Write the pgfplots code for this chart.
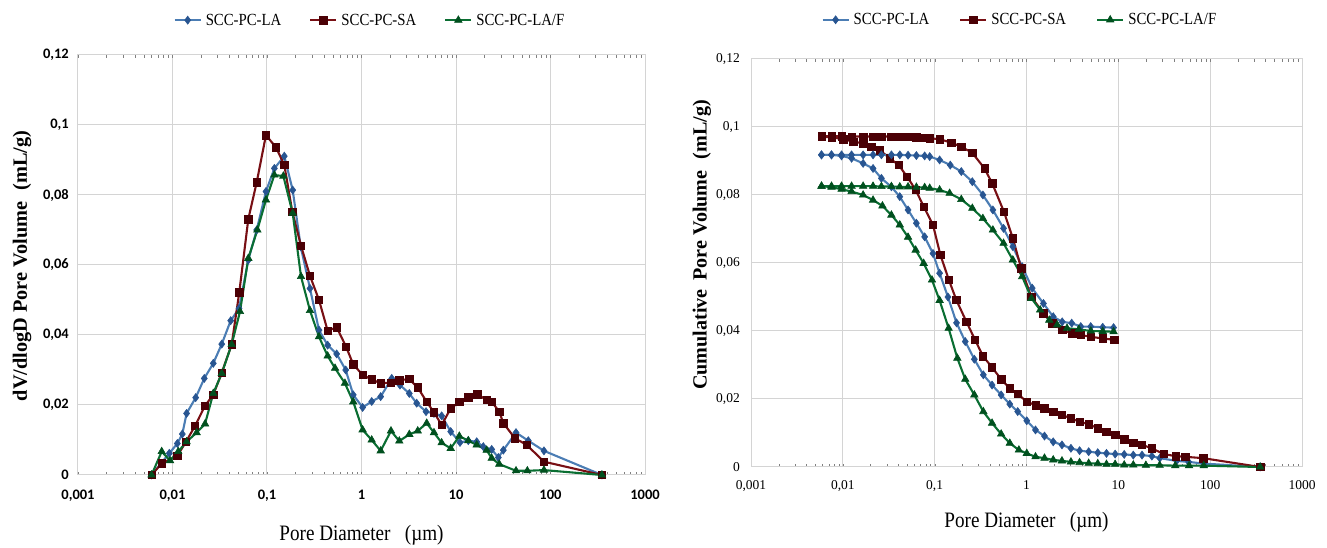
\documentclass[border=0pt]{standalone}
\usepackage{pgfplots}
\pgfplotsset{compat=1.18}
\usepackage{fontspec}
\setmainfont{Liberation Serif}
\newfontfamily\ylabfont{Liberation Serif}
\newfontfamily\tickfont{Carlito}
% narrow set text, as in the source figure
\newcommand\nar[1]{\scalebox{0.87}[1]{#1}}

\definecolor{laline}{RGB}{75,125,180}
\definecolor{lamark}{RGB}{40,85,145}
\definecolor{saline}{RGB}{120,15,20}
\definecolor{samark}{RGB}{75,0,5}
\definecolor{lfline}{RGB}{10,110,50}
\definecolor{lfmark}{RGB}{0,80,30}
\definecolor{gridgray}{RGB}{212,212,212}

\pgfplotsset{
  legend image code/.code={\draw[mark repeat=2,mark phase=2,#1]
    plot coordinates {(0pt,0pt) (13pt,0pt) (26pt,0pt)};},
}
\tikzset{
  sLA/.style={color=laline, line width=2.1pt, mark=diamond*, mark size=4pt,
    mark options={fill=lamark, draw=lamark, line width=0.6pt}},
  sSA/.style={color=saline, line width=2.1pt, mark=square*, mark size=3.7pt,
    mark options={fill=samark, draw=samark, line width=0.6pt}},
  sLF/.style={color=lfline, line width=2.1pt, mark=triangle*, mark size=4.3pt,
    mark options={fill=lfmark, draw=lfmark, line width=0.6pt}},
}

\begin{document}
\begin{tikzpicture}[x=1pt,y=1pt]
\path[use as bounding box] (0,0) rectangle (1327,548);

% ---------------- incremental distribution ----------------
\begin{axis}[
  scale only axis,
  at={(78pt,73pt)}, anchor=south west,
  width=567pt, height=420pt,
  xmode=log,
  xmin=0.001, xmax=1000, ymin=0, ymax=0.12,
  clip=false,
  xtick={0.001,0.01,0.1,1,10,100,1000},
  xticklabels={{0,001},{0,01},{0,1},1,10,100,1000},
  ytick={0,0.02,0.04,0.06,0.08,0.1,0.12},
  yticklabels={0,{0,02},{0,04},{0,06},{0,08},{0,1},{0,12}},
  minor xtick={}, minor ytick={},
  xmajorgrids, ymajorgrids,
  grid style={draw=gridgray, line width=1pt},
  axis line style={draw=gridgray, line width=1pt},
  major tick length=0pt,
  xticklabel style={font=\tickfont\bfseries\fontsize{14.5}{16}\selectfont, anchor=base, yshift=-25pt},
  yticklabel style={font=\tickfont\bfseries\fontsize{14.5}{16}\selectfont, anchor=east, inner sep=0pt, xshift=-9pt},
  xlabel={\nar{Pore Diameter\hspace{0.5em} (µm)}},
  xlabel style={font=\fontsize{22}{24}\selectfont, at={(axis description cs:0.5,-0.1429)}, anchor=center},
  ylabel={dV/dlogD Pore Volume\hspace{0.3em} (mL/g)},
  ylabel style={font=\ylabfont\bfseries\fontsize{20.3}{22}\selectfont, at={(axis description cs:-0.0988,0.498)}, anchor=center},
  legend columns=3,
  legend cell align=left,
  legend style={draw=none, fill=none, font=\fontsize{17}{19}\selectfont,
    at={(axis description cs:0.515,1.083)}, anchor=center, inner sep=0pt,
    /tikz/every odd column/.append style={column sep=2pt},
    /tikz/every even column/.append style={column sep=26pt}},
]
\addplot[sLA] coordinates {
 (0.006,0) (0.00925,0.0062) (0.01125,0.0090) (0.0127,0.0117) (0.0141,0.0176)
 (0.0176,0.0221) (0.0217,0.0276) (0.0270,0.0319) (0.0332,0.0374) (0.0413,0.0441)
 (0.0506,0.0476) (0.0634,0.0614) (0.0778,0.0700) (0.0975,0.0810) (0.1197,0.0876)
 (0.1524,0.0911) (0.1871,0.0814) (0.2275,0.0652) (0.285,0.0533) (0.355,0.0414)
 (0.4385,0.0371) (0.546,0.0346) (0.681,0.0300) (0.818,0.0229) (1.028,0.0193)
 (1.282,0.0210) (1.596,0.0224) (2.089,0.0276) (2.553,0.0257) (3.206,0.0233)
 (3.837,0.0205) (4.819,0.0181) (5.848,0.0176) (7.047,0.0169) (8.79,0.0124)
 (11.02,0.0093) (13.49,0.0098) (16.56,0.0095) (19.45,0.0081) (23.88,0.0073)
 (28.05,0.0050) (31.70,0.0071) (43.15,0.0121) (58.21,0.0098) (85.31,0.0069)
 (350,0)
};
\addlegendentry{\nar{SCC-PC-LA}}
\addplot[sSA] coordinates {
 (0.006,0) (0.00769,0.0033) (0.01125,0.0055) (0.0139,0.0095) (0.0173,0.0140)
 (0.0221,0.0198) (0.0270,0.0229) (0.0332,0.0292) (0.0423,0.0373) (0.0509,0.0522)
 (0.0634,0.0731) (0.0778,0.0836) (0.0975,0.0971) (0.1245,0.0936) (0.1524,0.0886)
 (0.1854,0.0752) (0.229,0.0655) (0.285,0.0569) (0.355,0.0500) (0.4385,0.0412)
 (0.546,0.0422) (0.6855,0.0367) (0.818,0.0316) (1.028,0.0286) (1.282,0.0273)
 (1.596,0.0262) (2.037,0.0264) (2.512,0.0271) (3.206,0.0274) (3.936,0.0250)
 (4.898,0.0209) (5.848,0.0179) (7.047,0.0143) (8.79,0.0190) (10.84,0.0209)
 (13.49,0.0222) (16.83,0.0231) (21.13,0.0214) (23.88,0.0209) (28.71,0.0181)
 (31.70,0.0148) (42.07,0.0105) (55.98,0.0086) (85.31,0.0038) (350,0)
};
\addlegendentry{\nar{SCC-PC-SA}}
\addplot[sLF] coordinates {
 (0.006,0) (0.00769,0.0067) (0.00942,0.0041) (0.0115,0.0067) (0.0141,0.0095)
 (0.0180,0.0121) (0.0221,0.0146) (0.0270,0.0233) (0.0332,0.0290) (0.0423,0.0373)
 (0.0518,0.0467) (0.0634,0.0619) (0.0791,0.0700) (0.0975,0.0786) (0.1197,0.0857)
 (0.149,0.0854) (0.1871,0.0748) (0.229,0.0567) (0.285,0.0470) (0.355,0.0395)
 (0.4385,0.0340) (0.525,0.0305) (0.668,0.0262) (0.818,0.0209) (1.028,0.0129)
 (1.282,0.0100) (1.596,0.0069) (2.051,0.0126) (2.512,0.0097) (3.206,0.0116)
 (3.936,0.0126) (4.898,0.0148) (5.848,0.0121) (7.047,0.0092) (8.79,0.0076)
 (10.84,0.0111) (13.49,0.0098) (16.56,0.0086) (21.13,0.0071) (23.88,0.0048)
 (28.71,0.0031) (43.15,0.0012) (56.89,0.0012) (85.31,0.0014) (350,0)
};
\addlegendentry{\nar{SCC-PC-LA/F}}
\end{axis}

% ---------------- cumulative intrusion ----------------
\begin{axis}[
  scale only axis,
  at={(751pt,81pt)}, anchor=south west,
  width=551pt, height=408pt,
  xmode=log,
  xmin=0.001, xmax=1000, ymin=0, ymax=0.12,
  clip=false,
  xtick={0.001,0.01,0.1,1,10,100,1000},
  xticklabels={{0,001},{0,01},{0,1},1,10,100,1000},
  ytick={0,0.02,0.04,0.06,0.08,0.1,0.12},
  yticklabels={0,{0,02},{0,04},{0,06},{0,08},{0,1},{0,12}},
  minor xtick={}, minor ytick={},
  xmajorgrids, ymajorgrids,
  grid style={draw=gridgray, line width=1pt},
  axis line style={draw=gridgray, line width=1pt},
  major tick length=0pt,
  xticklabel style={font=\fontsize{13.5}{15}\selectfont, anchor=base, yshift=-23pt},
  yticklabel style={font=\fontsize{13.5}{15}\selectfont, anchor=east, inner sep=0pt, xshift=-11pt},
  xlabel={\nar{Pore Diameter\hspace{0.5em} (µm)}},
  xlabel style={font=\fontsize{22}{24}\selectfont, at={(axis description cs:0.5,-0.1348)}, anchor=center},
  ylabel={Cumulative\hspace{0.2em} Pore Volume\hspace{0.3em} (mL/g)},
  ylabel style={font=\ylabfont\bfseries\fontsize{20.1}{22}\selectfont, at={(axis description cs:-0.089,0.544)}, anchor=center},
  legend columns=3,
  legend cell align=left,
  legend style={draw=none, fill=none, font=\fontsize{17}{19}\selectfont,
    at={(axis description cs:0.488,1.096)}, anchor=center, inner sep=0pt,
    /tikz/every odd column/.append style={column sep=2pt},
    /tikz/every even column/.append style={column sep=28pt}},
]
\addplot[sLA] coordinates {
 (0.00586,0.0918) (0.00753,0.0918) (0.00968,0.0915) (0.01245,0.0908) (0.01663,0.0893)
 (0.02133,0.0878) (0.0263,0.0849) (0.0338,0.0824) (0.0417,0.0795) (0.0513,0.0756)
 (0.0632,0.0717) (0.0778,0.0677) (0.0959,0.0628) (0.1132,0.0570) (0.1396,0.0500)
 (0.1730,0.0424) (0.2153,0.0369) (0.2704,0.0317) (0.3388,0.0271) (0.4217,0.0241)
 (0.5297,0.0212) (0.6577,0.0185) (0.8017,0.0163) (1.007,0.0136) (1.253,0.0109)
 (1.570,0.0091) (1.954,0.0074) (2.432,0.0065) (3.048,0.0055) (3.784,0.0048)
 (4.753,0.0045) (5.970,0.0042) (7.430,0.0040) (9.226,0.0038) (11.59,0.0037)
 (14.55,0.0035) (18.11,0.0035) (23.17,0.0032) (28.25,0.0026) (43.15,0.0018)
 (58.21,0.0015) (85.31,0.0010) (350,0)
};
\addlegendentry{\nar{SCC-PC-LA}}
\addplot[sSA] coordinates {
 (0.00586,0.0971) (0.00753,0.0970) (0.01007,0.0964) (0.01294,0.0957) (0.01663,0.0952)
 (0.0205,0.0942) (0.0252,0.0932) (0.0324,0.0908) (0.0406,0.0888) (0.0500,0.0854)
 (0.0621,0.0815) (0.0759,0.0766) (0.0959,0.0712) (0.1153,0.0624) (0.1429,0.0550)
 (0.1722,0.0491) (0.2218,0.0427) (0.2754,0.0374) (0.3357,0.0326) (0.4217,0.0293)
 (0.5297,0.0258) (0.6577,0.0231) (0.8017,0.0215) (1.007,0.0192) (1.253,0.0182)
 (1.570,0.0173) (1.954,0.0163) (2.432,0.0153) (3.048,0.0143) (3.784,0.0133)
 (4.753,0.0126) (5.970,0.0114) (7.430,0.0104) (9.226,0.0094) (11.59,0.0081)
 (14.55,0.0071) (18.11,0.0065) (23.17,0.0055) (31.19,0.0038) (41.98,0.0032)
 (53.70,0.0030) (83.75,0.0026) (350,0)
};
\addlegendentry{\nar{SCC-PC-SA}}
\addplot[sLF] coordinates {
 (0.00586,0.0826) (0.00753,0.0823) (0.00968,0.0817) (0.01245,0.0810) (0.01663,0.0800)
 (0.02133,0.0785) (0.0270,0.0768) (0.0338,0.0741) (0.0417,0.0712) (0.0513,0.0676)
 (0.0621,0.0638) (0.0759,0.0599) (0.0935,0.0550) (0.1132,0.0490) (0.1419,0.0408)
 (0.1766,0.0320) (0.2153,0.0258) (0.2704,0.0212) (0.3388,0.0163) (0.4217,0.0129)
 (0.5297,0.0097) (0.6577,0.0070) (0.8260,0.0050) (1.007,0.0040) (1.253,0.0030)
 (1.570,0.0026) (1.954,0.0021) (2.432,0.0018) (3.048,0.0015) (3.784,0.0013)
 (4.753,0.0011) (5.970,0.0010) (7.430,0.0008) (9.226,0.0008) (11.59,0.0006)
 (14.55,0.0006) (19.95,0.0005) (28.18,0.0005) (41.69,0.0004) (58.88,0.0004)
 (85.11,0.0004) (350,0)
};
\addlegendentry{\nar{SCC-PC-LA/F}}
% second set of curves, ending at 10 µm
\addplot[sLA, forget plot] coordinates {
 (0.00586,0.0918) (0.00753,0.0918) (0.00968,0.0918) (0.01245,0.0918) (0.01663,0.0918)
 (0.02133,0.0918) (0.0263,0.0918) (0.0338,0.0918) (0.0417,0.0918) (0.0513,0.0917)
 (0.0632,0.0916) (0.0778,0.0915) (0.0883,0.0913) (0.1132,0.0903) (0.1479,0.0888)
 (0.1950,0.0869) (0.2570,0.0839) (0.3350,0.0800) (0.4305,0.0756) (0.5623,0.0702)
 (0.7096,0.0648) (0.8974,0.0589) (1.153,0.0526) (1.528,0.0481) (1.954,0.0442)
 (2.449,0.0427) (3.105,0.0423) (3.899,0.0413) (5.000,0.0413) (6.761,0.0411)
 (8.872,0.0410)
};
\addplot[sSA, forget plot] coordinates {
 (0.00586,0.0973) (0.00753,0.0973) (0.00968,0.0973) (0.01245,0.0972) (0.01663,0.0972)
 (0.02133,0.0972) (0.0263,0.0972) (0.0338,0.0972) (0.0417,0.0971) (0.0513,0.0971)
 (0.0632,0.0970) (0.0778,0.0969) (0.0883,0.0967) (0.1132,0.0964) (0.1517,0.0954)
 (0.1950,0.0942) (0.2570,0.0924) (0.3491,0.0878) (0.4236,0.0834) (0.5675,0.0751)
 (0.7096,0.0673) (0.8750,0.0584) (1.125,0.0501) (1.528,0.0452) (1.919,0.0423)
 (2.449,0.0403) (3.141,0.0393) (3.899,0.0388) (5.000,0.0383) (6.761,0.0378)
 (9.057,0.0374)
};
\addplot[sLF, forget plot] coordinates {
 (0.00586,0.0826) (0.00753,0.0826) (0.00968,0.0826) (0.01245,0.0826) (0.01663,0.0826)
 (0.02133,0.0826) (0.0263,0.0825) (0.0338,0.0825) (0.0417,0.0824) (0.0513,0.0824)
 (0.0632,0.0823) (0.0778,0.0822) (0.0883,0.0820) (0.1132,0.0815) (0.1455,0.0805)
 (0.1950,0.0787) (0.2570,0.0761) (0.3350,0.0731) (0.4305,0.0697) (0.5623,0.0658)
 (0.7096,0.0609) (0.8974,0.0560) (1.132,0.0496) (1.409,0.0462) (1.770,0.0432)
 (2.158,0.0418) (2.761,0.0408) (3.715,0.0405) (5.012,0.0400) (6.761,0.0399)
 (8.872,0.0398)
};
\end{axis}
\end{tikzpicture}
\end{document}
